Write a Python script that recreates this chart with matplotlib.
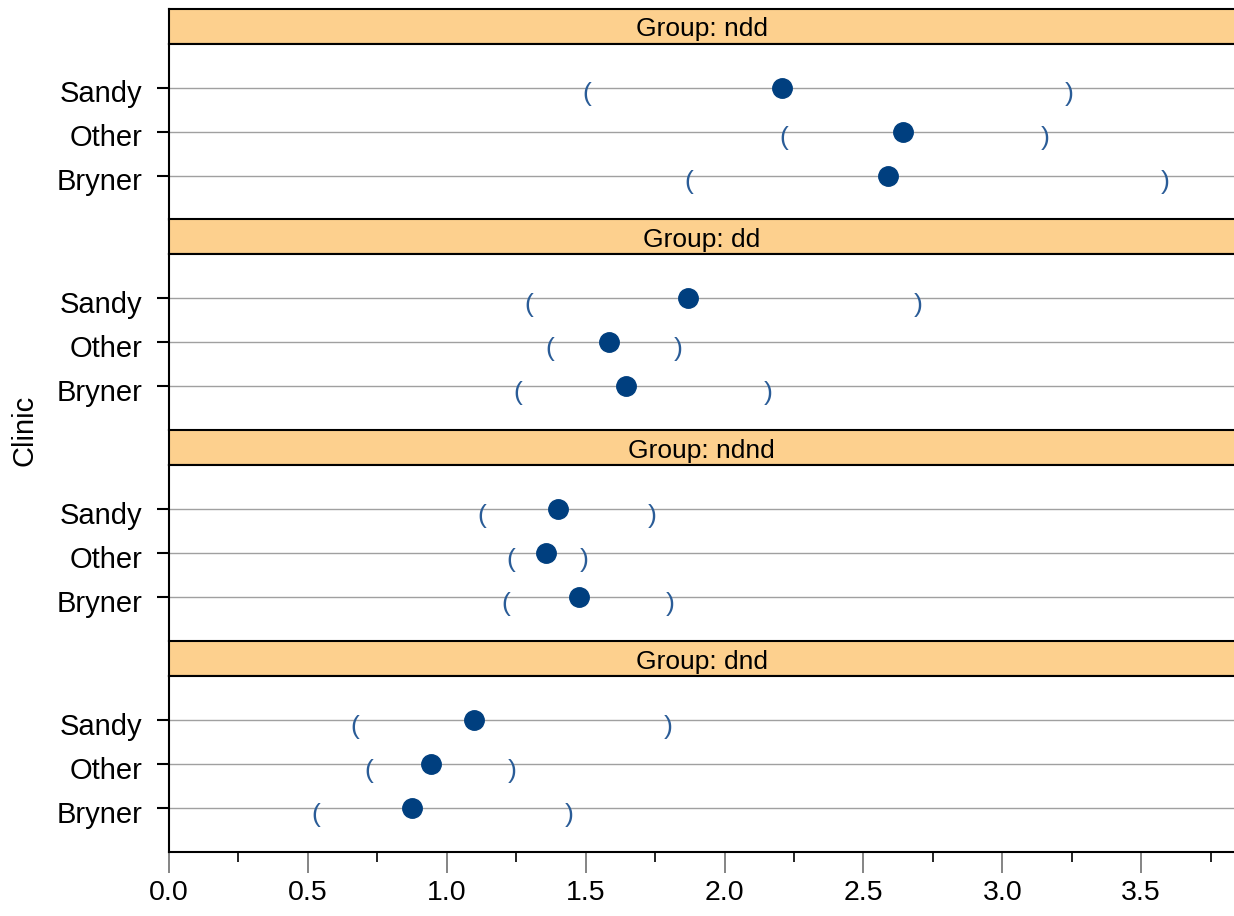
import matplotlib
matplotlib.use('Agg')
import matplotlib.pyplot as plt
import matplotlib.transforms as mtransforms

plt.rcParams['font.family'] = ['Liberation Sans', 'DejaVu Sans']

groups = ['ndd', 'dd', 'ndnd', 'dnd']
clinics = ['Bryner', 'Other', 'Sandy']

# estimates and interval bounds, per group, in clinic order (Bryner, Other, Sandy)
est = {'ndd': [2.59, 2.643, 2.207],
       'dd': [1.646, 1.584, 1.869],
       'ndnd': [1.476, 1.358, 1.401],
       'dnd': [0.875, 0.943, 1.098]}
lower = {'ndd': [1.873, 2.215, 1.505],
         'dd': [1.257, 1.372, 1.296],
         'ndnd': [1.214, 1.232, 1.127],
         'dnd': [0.529, 0.720, 0.670]}
upper = {'ndd': [3.587, 3.155, 3.240],
         'dd': [2.157, 1.833, 2.697],
         'ndnd': [1.804, 1.494, 1.739],
         'dnd': [1.440, 1.235, 1.797]}

W, H = 1234, 916
fig = plt.figure(figsize=(W / 100, H / 100), dpi=100)

left = 169
top0 = 8.5
step = 210.8
head_h = 35.0
pan_h = 176.0

pt_col = '#003f7f'
par_col = '#2a5c97'
head_col = '#fdd08e'

# move tick labels a few pixels down, like the reference
down = mtransforms.ScaledTranslation(0, -4 / 100, fig.dpi_scale_trans)

axes = []
for k, g in enumerate(groups):
    htop = top0 + k * step
    ptop = htop + head_h
    pbot = ptop + pan_h
    # header strip
    hax = fig.add_axes([left / W, 1 - ptop / H, 1 - left / W, head_h / H])
    hax.set_facecolor(head_col)
    hax.set_xticks([])
    hax.set_yticks([])
    for s in ['top', 'bottom', 'left']:
        hax.spines[s].set_linewidth(1.5)
    hax.spines['right'].set_visible(False)
    hax.text(0.5, 0.41, 'Group: ' + g, ha='center', va='center', fontsize=19,
             transform=hax.transAxes)

    ax = fig.add_axes([left / W, 1 - pbot / H, 1 - left / W, pan_h / H])
    ypos = range(1, len(clinics) + 1)
    for y in ypos:
        ax.axhline(y, color='#a0a0a0', lw=1.0, zorder=1)
    ax.plot(est[g], ypos, 'o', color=pt_col, ms=14, zorder=3)
    for lo, hi, y in zip(lower[g], upper[g], ypos):
        ax.annotate('(', (lo, y), xytext=(0, -7), textcoords='offset pixels',
                    ha='center', va='center', fontsize=19, color=par_col, zorder=2)
        ax.annotate(')', (hi, y), xytext=(0, -7), textcoords='offset pixels',
                    ha='center', va='center', fontsize=19, color=par_col, zorder=2)
    ax.set_xlim(0, 3.834)
    ax.set_ylim(0, 4)
    ax.set_yticks(list(ypos))
    ax.set_yticklabels(clinics, fontsize=21)
    ax.tick_params(axis='y', length=9, width=1.5, pad=10)
    for lab in ax.get_yticklabels():
        lab.set_transform(lab.get_transform() + down)
    for s in ['top', 'bottom', 'left']:
        ax.spines[s].set_linewidth(1.5)
    ax.spines['right'].set_visible(False)
    if k < len(groups) - 1:
        ax.set_xticks([])
        ax.spines['bottom'].set_visible(False)
    axes.append(ax)

bax = axes[-1]
bax.set_xticks([0.0, 0.5, 1.0, 1.5, 2.0, 2.5, 3.0, 3.5])
bax.set_xticklabels(['0.0', '0.5', '1.0', '1.5', '2.0', '2.5', '3.0', '3.5'], fontsize=20.5)
bax.set_xticks([0.25, 0.75, 1.25, 1.75, 2.25, 2.75, 3.25, 3.75], minor=True)
bax.tick_params(axis='x', which='major', length=15, width=1.2, color='#707070', pad=5)
bax.tick_params(axis='x', which='minor', length=7, width=1.2, color='black')

fig.text(25 / W, 1 - 430 / H, 'Clinic', rotation=90, ha='center', va='center', fontsize=21)

fig.savefig('out.png', dpi=100)
